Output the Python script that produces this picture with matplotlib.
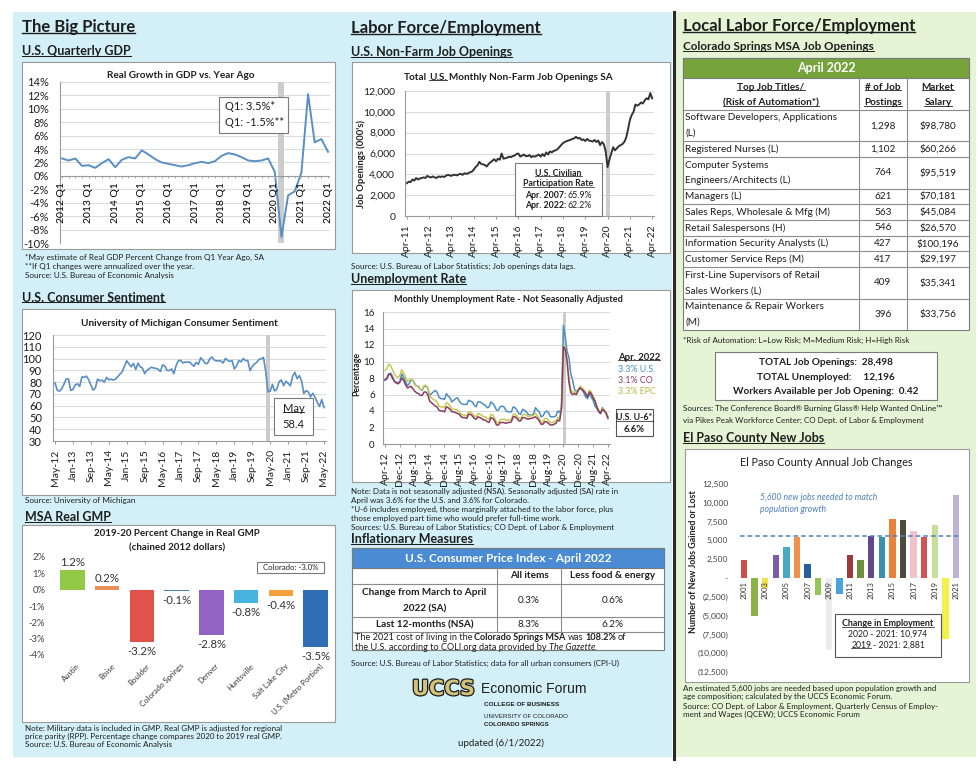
import matplotlib
matplotlib.use("Agg")
import matplotlib.pyplot as plt
import matplotlib.patheffects as pe
from matplotlib.patches import Rectangle
from matplotlib.lines import Line2D
import numpy as np
import pandas as pd

plt.rcParams["font.family"] = ["Lato", "DejaVu Sans"]
plt.rcParams["axes.linewidth"] = 0.8

W, H = 979, 768

# ---------------- data ----------------
# U.S. real GDP, % change vs. year ago, 2012 Q1 .. 2022 Q1
gdp_growth = [
    2.6, 2.3, 2.6, 1.5,      # 2012
    1.6, 1.2, 1.9, 2.5,      # 2013
    1.3, 2.4, 2.8, 2.6,      # 2014
    3.8, 3.2, 2.5, 2.0,      # 2015
    1.8, 1.6, 1.4, 1.6,      # 2016
    1.9, 2.1, 1.9, 2.2,      # 2017
    3.0, 3.4, 3.2, 2.8,      # 2018
    2.3, 2.2, 2.3, 2.6,      # 2019
    0.6, -9.1, -2.9, -2.3,   # 2020
    0.5, 12.2, 5.0, 5.5,     # 2021
    3.6,                     # 2022
]

# University of Michigan consumer sentiment, May 2012 .. May 2022
sentiment = [
    79.3, 73.2, 72.3, 74.3, 78.3, 82.6, 82.7, 72.9,
    73.8, 77.6, 78.6, 76.4, 84.5, 84.1, 85.1, 82.1, 77.5, 73.2, 75.1, 82.5,
    81.2, 81.6, 80.0, 84.1, 81.9, 82.5, 81.8, 82.5, 84.6, 86.9, 88.8, 93.6,
    98.1, 95.4, 93.0, 95.9, 90.7, 96.1, 93.1, 91.9, 87.2, 90.0, 91.3, 92.6,
    92.0, 91.7, 91.0, 89.0, 94.7, 93.5, 90.0, 89.8, 91.2, 87.2, 93.8, 98.2,
    98.5, 96.3, 96.9, 97.0, 97.1, 95.1, 93.4, 96.8, 95.1, 100.7, 98.5, 95.9,
    95.7, 99.7, 101.4, 98.8, 98.0, 98.2, 97.9, 96.2, 100.1, 98.6, 97.5, 98.3,
    91.2, 93.8, 98.4, 97.2, 100.0, 98.2, 98.4, 89.8, 93.2, 95.5, 96.8, 99.3,
    99.8, 101.0, 89.1, 71.8, 72.3, 78.1, 72.5, 74.1, 80.4, 81.8, 76.9, 80.7,
    79.0, 76.8, 84.9, 88.3, 82.9, 85.5, 81.2, 70.3, 72.8, 71.7, 67.4, 70.6,
    67.2, 62.8, 59.4, 65.2, 58.4,
]

# MSA real GMP, % change 2019-20
msa_names = ["Austin", "Boise", "Boulder", "Colorado Springs", "Denver",
             "Huntsville", "Salt Lake City", "U.S. (Metro Portion)"]
msa_change = [1.2, 0.2, -3.2, -0.1, -2.8, -0.8, -0.4, -3.5]
msa_colors = ["#92c947", "#e8925a", "#e0524a", "#4b7bbd", "#9363c4",
              "#46b4de", "#f5a03c", "#2f6db5"]

# U.S. non-farm job openings (000's), Apr 2011 .. Apr 2022
job_openings = [
    3150, 3300, 3250, 3500, 3400, 3650, 3500, 3600, 3650,
    3700, 3650, 3850, 3750, 3700, 3800, 3700, 3650, 3800, 3750, 3800, 3750,
    3850, 3950, 3900, 3850, 3950, 3950, 3900, 4000, 4050, 3950, 4100, 4050,
    4100, 4200, 4250, 4450, 4700, 4850, 5200, 5000, 4950, 4900, 4750, 5000,
    5150, 5300, 5450, 5250, 5500, 5400, 6000, 5500, 5550, 5600, 5700, 5650,
    5750, 5800, 5950, 6000, 5700, 5800, 5900, 5750, 5750, 5850, 5650, 5750,
    5700, 5800, 5900, 5700, 5950, 5750, 6100, 5900, 6200, 6100, 6250, 6300,
    6400, 6600, 6800, 7000, 7100, 7200, 7250, 7300, 7400, 7450, 7600, 7450,
    7500, 7300, 7350, 7200, 7400, 7250, 7200, 7150, 7300, 7100, 7250, 6800,
    7100, 6900, 6200, 4700, 5400, 6000, 6600, 6300, 6500, 6700, 6800, 6900,
    7100, 7500, 8300, 9200, 9700, 10000, 10700, 10600, 10700, 10900, 10800, 11100,
    11300, 11200, 11800, 11300,
]

# Monthly unemployment rate (NSA), Apr 2012 .. Apr 2022
unemp_us = [
    7.7, 7.9, 8.4, 8.6, 8.2, 7.6, 7.5, 7.4, 7.6,
    8.5, 8.1, 7.6, 7.1, 7.3, 7.8, 7.7, 7.3, 7.0, 7.0, 6.6, 6.5,
    7.0, 7.0, 6.8, 5.9, 6.1, 6.3, 6.5, 6.3, 5.7, 5.5, 5.5, 5.4,
    6.1, 5.8, 5.6, 5.1, 5.3, 5.5, 5.6, 5.2, 4.9, 4.8, 4.8, 4.8,
    5.3, 5.2, 5.1, 4.7, 4.5, 5.1, 5.1, 5.0, 4.8, 4.7, 4.4, 4.5,
    5.1, 4.9, 4.6, 4.1, 4.1, 4.5, 4.6, 4.5, 4.1, 3.9, 3.9, 3.9,
    4.5, 4.4, 4.1, 3.7, 3.6, 4.2, 4.1, 3.9, 3.6, 3.5, 3.5, 3.7,
    4.4, 4.1, 3.9, 3.3, 3.4, 3.8, 4.0, 3.8, 3.3, 3.3, 3.3, 3.4,
    4.0, 3.8, 4.5, 14.4, 13.0, 11.2, 10.5, 8.5, 7.7, 6.6, 6.4, 6.5,
    6.8, 6.6, 6.2, 5.7, 5.5, 6.1, 5.7, 5.3, 4.6, 4.3, 3.9, 3.7,
    4.4, 4.1, 3.8, 3.3,
]
unemp_co = [
    7.8, 8.0, 8.5, 8.4, 8.0, 7.6, 7.4, 7.3, 7.5,
    8.0, 7.7, 7.2, 6.8, 6.9, 7.0, 6.7, 6.4, 6.2, 6.1, 5.9, 5.9,
    6.3, 6.3, 6.0, 5.2, 5.0, 4.8, 4.6, 4.5, 4.1, 4.0, 4.0, 3.9,
    4.5, 4.4, 4.2, 3.9, 3.9, 3.8, 3.7, 3.6, 3.3, 3.2, 3.2, 3.1,
    3.6, 3.6, 3.4, 3.1, 3.0, 3.3, 3.2, 3.1, 2.9, 2.9, 2.7, 2.6,
    3.2, 3.1, 2.8, 2.3, 2.3, 2.6, 2.6, 2.6, 2.5, 2.6, 2.6, 2.7,
    3.3, 3.3, 3.1, 2.8, 2.8, 3.2, 3.2, 3.1, 3.0, 3.1, 3.1, 3.2,
    3.3, 3.1, 2.8, 2.4, 2.4, 2.7, 2.7, 2.5, 2.3, 2.3, 2.4, 2.5,
    2.9, 2.8, 4.3, 11.8, 11.5, 10.0, 7.5, 6.2, 6.0, 6.1, 6.0, 6.5,
    6.8, 6.6, 6.4, 6.1, 5.7, 6.3, 6.1, 5.6, 5.2, 4.5, 4.0, 3.7,
    4.2, 4.0, 3.7, 3.1,
]
unemp_epc = [
    8.9, 9.2, 9.7, 9.5, 9.0, 8.5, 8.2, 8.1, 8.3,
    9.0, 8.6, 8.1, 7.6, 7.7, 7.9, 7.6, 7.2, 7.0, 6.9, 6.6, 6.6,
    7.1, 7.1, 6.8, 5.8, 5.6, 5.4, 5.3, 5.1, 4.6, 4.5, 4.5, 4.4,
    5.0, 4.9, 4.6, 4.2, 4.2, 4.2, 4.1, 3.9, 3.6, 3.5, 3.5, 3.4,
    3.9, 3.9, 3.7, 3.4, 3.3, 3.7, 3.6, 3.5, 3.3, 3.3, 3.1, 3.0,
    3.6, 3.5, 3.1, 2.6, 2.6, 2.9, 3.0, 3.0, 2.9, 2.9, 2.9, 3.0,
    3.6, 3.6, 3.4, 3.1, 3.1, 3.5, 3.6, 3.5, 3.3, 3.4, 3.4, 3.5,
    3.7, 3.4, 3.1, 2.7, 2.7, 3.1, 3.1, 2.9, 2.6, 2.6, 2.7, 2.8,
    3.2, 3.1, 4.6, 11.9, 11.6, 10.3, 7.9, 6.6, 6.3, 6.3, 6.2, 6.6,
    7.0, 6.8, 6.6, 6.2, 5.8, 6.5, 6.3, 5.8, 5.3, 4.6, 4.1, 3.8,
    4.3, 4.1, 3.8, 3.3,
]

# CPI table
cpi_cols = ["All items", "Less food & energy"]
cpi_rows = ["Change from March to April\n2022 (SA)", "Last 12-months (NSA)"]
cpi_values = [[0.3, 0.6], [8.3, 6.2]]

# Colorado Springs MSA job openings, April 2022
job_titles = ["Software Developers, Applications\n(L)", "Registered Nurses (L)",
              "Computer Systems\nEngineers/Architects (L)", "Managers (L)",
              "Sales Reps, Wholesale & Mfg (M)", "Retail Salespersons (H)",
              "Information Security Analysts (L)", "Customer Service Reps (M)",
              "First-Line Supervisors of Retail\nSales Workers (L)",
              "Maintenance & Repair Workers\n(M)"]
job_postings = [1298, 1102, 764, 621, 563, 546, 427, 417, 409, 396]
job_salary = [98780, 60266, 95519, 70181, 45084, 26570, 100196, 29197, 35341, 33756]

# El Paso County annual job changes
ep_years = list(range(2001, 2022))
ep_jobs = [2400, -5000, -1300, 3100, 4100, 5500, 1800, -2200, -9600, -2100,
           3000, 2400, 5600, 5500, 7900, 7700, 6300, 5500, 7000, -8093, 10974]
ep_colors = ["#c9504b", "#8db346", "#f2e14b", "#7b5ea7", "#4aaac6", "#f0924a",
             "#2a5f9e", "#92c756", "#ececec", "#4da3de", "#9a3a3a", "#6f8f3a",
             "#5e4a8c", "#3a93ad", "#e9833a", "#4d4a3a", "#efc3c8", "#d05454",
             "#c6df9c", "#f4f04a", "#bdb3d6"]
jobs_needed = 5600

# ---------------- helpers ----------------
BLUE_BG = "#d3eff7"
GREEN_BG = "#e5f4d5"
LINE_BLUE = "#5a8fc3"
TXT = "#1e1e1e"
GRID = "#d4d4d4"
AXIS = "#9a9a9a"
BAND = "#cccccc"

fig = plt.figure(figsize=(W / 100, H / 100), dpi=100)
fig.patch.set_facecolor("white")
rend = fig.canvas.get_renderer()


def fx(x):
    return x / W


def fy(y):
    return 1 - y / H


underlined = []


def txt(x, y, s, ul=False, **kw):
    kw.setdefault("fontsize", 6)
    kw.setdefault("color", TXT)
    kw.setdefault("va", "center")
    t = fig.text(fx(x), fy(y), s, **kw)
    if ul:
        underlined.append(t)
    return t


def rect(x0, y0, x1, y1, fc="white", ec="#9a9a9a", lw=0.8, z=-1):
    fig.add_artist(Rectangle((fx(x0), fy(y1)), (x1 - x0) / W, (y1 - y0) / H,
                             transform=fig.transFigure, fc=fc, ec=ec, lw=lw, zorder=z))


def seg(x0, y0, x1, y1, color="#8c8c8c", lw=0.8, z=2):
    fig.add_artist(Line2D([fx(x0), fx(x1)], [fy(y0), fy(y1)], transform=fig.transFigure,
                          color=color, lw=lw, zorder=z))


def width_of(s, **kw):
    t = fig.text(0, 0, s, **kw)
    w = t.get_window_extent(rend).width
    t.remove()
    return w


def rich(x, y, parts, size=7, ha="left"):
    # pieces of one line with their own weight / style / underline
    sp = 0.8 * (width_of("a a", fontsize=size) - width_of("aa", fontsize=size))
    placed = []
    cur = 0
    for s, opt in parts:
        if s.startswith(" "):
            cur += sp
        t = txt(0, y, s.strip(), ul=opt.get("ul", False), fontsize=size,
                fontweight=opt.get("weight", "normal"), fontstyle=opt.get("style", "normal"),
                color=opt.get("color", TXT))
        placed.append((t, cur))
        cur += t.get_window_extent(rend).width
        if s.endswith(" "):
            cur += sp
    x0 = x - cur / 2 if ha == "center" else x
    for t, off in placed:
        t.set_x(fx(x0 + off))


def add_ax(x0, y0, x1, y1):
    ax = fig.add_axes([fx(x0), fy(y1), (x1 - x0) / W, (y1 - y0) / H])
    ax.set_facecolor("none")
    for s in ["top", "right"]:
        ax.spines[s].set_visible(False)
    for s in ["left", "bottom"]:
        ax.spines[s].set_color(AXIS)
    ax.tick_params(colors="#8a8a8a", labelcolor=TXT, length=2.5, width=0.6)
    ax.set_axisbelow(True)
    return ax


# ---------------- backgrounds ----------------
rect(13, 12, 672, 757, fc=BLUE_BG, ec="none", z=-3)
rect(675, 12, 976, 757, fc=GREEN_BG, ec="none", z=-3)
seg(673.5, 12, 673.5, 759, color="#2a2a2a", lw=2.2, z=-2)

# ---------------- The Big Picture: GDP ----------------
txt(22, 27, "The Big Picture", ul=True, fontsize=12, fontweight="bold")
txt(22, 51, "U.S. Quarterly GDP", ul=True, fontsize=9, fontweight="bold")
rect(22, 62, 335, 249)
txt(181, 76, "Real Growth in GDP vs. Year Ago", fontsize=7.2, fontweight="bold", ha="center")

gdp_labels = [str(p).replace("Q", " Q")
              for p in pd.period_range("2012Q1", periods=len(gdp_growth), freq="Q")]
ax = add_ax(60, 82, 330, 243)
xq = np.arange(len(gdp_growth))
ax.axvspan(32.55, 33.45, color=BAND, lw=0)
ax.plot(xq, gdp_growth, color=LINE_BLUE, lw=1.4)
ax.set_xlim(-0.3, 40.3)
ax.set_ylim(-10, 14)
ax.set_yticks(range(-10, 15, 2))
ax.set_yticklabels([f"{v}%" for v in range(-10, 15, 2)])
ax.tick_params(axis="y", length=0, labelsize=8, pad=8)
ax.grid(axis="y", color=GRID, lw=0.6)
ax.set_xticks([])
ax.spines["bottom"].set_visible(False)
ax.axhline(0, color=AXIS, lw=0.8)
ax.vlines(xq, -0.35, 0, color=AXIS, lw=0.6)
for i in range(0, len(gdp_growth), 4):
    ax.text(i, -0.9, gdp_labels[i], rotation=90, ha="center", va="top", fontsize=7.5)

rect(219, 97, 288, 133, fc="white", ec="#7a7a7a", z=2)
txt(225, 106, "Q1: 3.5%*", fontsize=8)
txt(225, 123, "Q1: -1.5%**", fontsize=8)

txt(25, 257, "*May estimate of Real GDP Percent Change from Q1 Year Ago, SA", fontsize=5.9)
txt(25, 266, "**If Q1 changes were annualized over the year.", fontsize=5.9)
txt(25, 275, "Source: U.S. Bureau of Economic Analysis", fontsize=5.9)

# ---------------- Consumer sentiment ----------------
txt(22, 298, "U.S. Consumer Sentiment", ul=True, fontsize=9, fontweight="bold")
rect(22, 309, 335, 495)
txt(179, 323, "University of Michigan Consumer Sentiment", fontsize=7.2,
    fontweight="bold", ha="center")

sent_dates = pd.date_range("2012-05-01", periods=len(sentiment), freq="MS").strftime("%b-%y")
ax = add_ax(53, 335, 326, 441)
xs = np.arange(len(sentiment))
ax.axvspan(94.3, 96.0, color=BAND, lw=0)
ax.plot(xs, sentiment, color=LINE_BLUE, lw=1.2)
ax.set_xlim(-0.9, 120.9)
ax.set_ylim(30, 120)
ax.set_yticks(range(30, 121, 10))
ax.tick_params(axis="y", length=0, labelsize=8, pad=8)
ax.set_xticks(xs[::8])
ax.set_xticklabels(sent_dates[::8], rotation=90, fontsize=7.5)
ax.grid(axis="y", color=GRID, lw=0.6)

rect(274, 398, 313, 435, fc="white", ec="#7a7a7a", z=2)
txt(293.5, 408, "May", ul=True, fontsize=8, ha="center")
txt(293.5, 425, "58.4", fontsize=8, ha="center")
txt(25, 501, "Source: University of Michigan", fontsize=5.9)

# ---------------- MSA real GMP ----------------
txt(25, 517, "MSA Real GMP", ul=True, fontsize=9, fontweight="bold")
rect(22, 525, 335, 722)
txt(177, 534, "2019-20 Percent Change in Real GMP", fontsize=7, fontweight="bold", ha="center")
txt(177, 548, "(chained 2012 dollars)", fontsize=7, fontweight="bold", ha="center")

ax = add_ax(55, 557, 333, 655)
ax.bar(range(len(msa_change)), msa_change, width=0.7, color=msa_colors)
ax.set_xlim(-0.5, len(msa_change) - 0.5)
ax.set_ylim(-4, 2)
ax.set_yticks(range(-4, 3))
ax.set_yticklabels([f"{v}%" for v in range(-4, 3)])
ax.tick_params(axis="y", length=0, labelsize=6.8, pad=7, labelcolor="#444444")
ax.set_xticks([])
for s in ax.spines.values():
    s.set_visible(False)
for i, (v, name) in enumerate(zip(msa_change, msa_names)):
    if v >= 0:
        ax.text(i, v + 0.12, f"{v:.1f}%", ha="center", va="bottom", fontsize=8.2, color="#333333")
    else:
        ax.text(i, v - 0.25, f"{v:.1f}%", ha="center", va="top", fontsize=8.2, color="#333333")
    ax.text(i + 0.18, -4.6, name, rotation=45, rotation_mode="anchor", ha="right",
            va="center", fontsize=5.6, color="#333333")

rect(257, 562, 324, 573, fc="white", ec="#7a7a7a", z=2)
txt(290.5, 567.5, "Colorado: -3.0%", fontsize=5.6, ha="center")

txt(25, 728, "Note: Military data is included in GMP. Real GMP is adjusted for regional", fontsize=5.8)
txt(25, 736.5, "price parity (RPP). Percentage change compares 2020 to 2019 real GMP.", fontsize=5.8)
txt(25, 745, "Source: U.S. Bureau of Economic Analysis", fontsize=5.8)

# ---------------- Labor force: job openings ----------------
txt(351, 28, "Labor Force/Employment", ul=True, fontsize=12, fontweight="bold")
txt(351, 52, "U.S. Non-Farm Job Openings", ul=True, fontsize=9, fontweight="bold")
rect(352, 62, 670, 253)
rich(508, 77, [("Total ", {"weight": "bold"}), ("U.S.", {"weight": "bold", "ul": True}),
               (" Monthly Non-Farm Job Openings SA", {"weight": "bold"})], size=7.2, ha="center")

jo_dates = pd.date_range("2011-04-01", periods=len(job_openings), freq="MS").strftime("%b-%y")
ax = add_ax(405, 91, 654, 216)
xj = np.arange(len(job_openings))
ax.axvspan(107.3, 109.3, color=BAND, lw=0)
ax.plot(xj, job_openings, color="#333333", lw=1.4)
ax.set_xlim(-1, len(job_openings))
ax.set_ylim(0, 12000)
ax.set_yticks(range(0, 12001, 2000))
ax.set_yticklabels([f"{v:,}" for v in range(0, 12001, 2000)])
ax.tick_params(axis="y", length=0, labelsize=7.5, pad=7)
ax.set_xticks(xj[::12])
ax.set_xticklabels(jo_dates[::12], rotation=90, fontsize=7.5)
ax.grid(axis="y", color=GRID, lw=0.6)
txt(361, 164, "Job Openings (000's)", rotation=90, ha="center", fontsize=6.8, fontweight="bold")

rect(515, 163, 602, 216, fc="white", ec="#7a7a7a", z=2)
txt(558.5, 173, "U.S. Civilian", ul=True, fontsize=6.3, fontweight="bold", ha="center")
txt(558.5, 184, "Participation Rate", ul=True, fontsize=6.3, fontweight="bold", ha="center")
rich(558.5, 195, [("Apr. 2007: ", {"weight": "bold"}), ("65.9%", {})], size=6.3, ha="center")
rich(558.5, 206, [("Apr. 2022: ", {"weight": "bold"}), ("62.2%", {})], size=6.3, ha="center")
txt(351, 266, "Source: U.S. Bureau of Labor Statistics; Job openings data lags.", fontsize=5.9)

# ---------------- Unemployment rate ----------------
txt(351, 279, "Unemployment Rate", ul=True, fontsize=9, fontweight="bold")
rect(352, 290, 670, 482)
txt(508, 300, "Monthly Unemployment Rate - Not Seasonally Adjusted", fontsize=6.6,
    fontweight="bold", ha="center")

un_dates = pd.date_range("2012-04-01", periods=len(unemp_us), freq="MS").strftime("%b-%y")
ax = add_ax(383, 312, 610, 444)
xu = np.arange(len(unemp_us))
ax.axvspan(95.6, 97.2, color=BAND, lw=0)
ax.plot(xu, unemp_us, color="#4a8fc0", lw=1.1)
ax.plot(xu, unemp_epc, color="#c6c850", lw=1.1)
ax.plot(xu, unemp_co, color="#8a3c5e", lw=1.1)
ax.set_xlim(-1.1, len(unemp_us) + 0.1)
ax.set_ylim(0, 16)
ax.set_yticks(range(0, 17, 2))
ax.tick_params(axis="y", length=0, labelsize=7, pad=6)
ax.set_xticks(xu[::8])
ax.set_xticklabels(un_dates[::8], rotation=90, fontsize=7.5)
ax.grid(axis="y", color=GRID, lw=0.6)
txt(357, 374, "Percentage", rotation=90, ha="center", fontsize=6.3, fontweight="bold")

txt(618, 357, "Apr. 2022", ul=True, fontsize=6.8, fontweight="bold")
txt(618, 369, "3.3% U.S.", fontsize=6.4, color="#4a8fc0")
txt(618, 380, "3.1% CO", fontsize=6.4, color="#8a3c5e")
txt(618, 391, "3.3% EPC", fontsize=6.4, color="#b9bb45")
rect(616, 409, 653, 436, fc="white", ec="#555555", z=2)
txt(634.5, 418, "U.S. U-6*", ul=True, fontsize=6.3, fontweight="bold", ha="center")
txt(634.5, 429, "6.6%", fontsize=6.8, fontweight="bold", ha="center")

txt(351, 491, "Note: Data is not seasonally adjusted (NSA). Seasonally adjusted (SA) rate in", fontsize=5.8)
txt(351, 500, "April was 3.6% for the U.S. and 3.6% for Colorado.", fontsize=5.8)
txt(351, 509, "*U-6 includes employed, those marginally attached to the labor force, plus", fontsize=5.8)
txt(351, 518, "those employed part time who would prefer full-time work.", fontsize=5.8)
txt(351, 527, "Sources: U.S. Bureau of Labor Statistics; CO Dept. of Labor & Employment", fontsize=5.8)

# ---------------- Inflation / CPI table ----------------
txt(351, 539, "Inflationary Measures", ul=True, fontsize=9, fontweight="bold")
cx = [352, 497, 561, 664]
cy = [548, 568, 584, 617, 632, 650]
rect(cx[0], cy[0], cx[3], cy[5], fc="white", ec="#7a7a7a", z=1)
rect(cx[0], cy[0], cx[3], cy[1], fc="#4a8bd3", ec="#7a7a7a", z=1)
txt((cx[0] + cx[3]) / 2, 558, "U.S. Consumer Price Index - April 2022", color="white",
    fontsize=8.6, fontweight="bold", ha="center")
for yy in cy[2:5]:
    seg(cx[0], yy, cx[3], yy)
for xx in cx[1:3]:
    seg(xx, cy[1], xx, cy[4])
for j, c in enumerate(cpi_cols):
    txt((cx[j + 1] + cx[j + 2]) / 2, (cy[1] + cy[2]) / 2, c, fontsize=7.2,
        fontweight="bold", ha="center")
for r, (lab, vals) in enumerate(zip(cpi_rows, cpi_values)):
    ymid = (cy[r + 2] + cy[r + 3]) / 2
    lines = lab.split("\n")
    for k, line in enumerate(lines):
        txt((cx[0] + cx[1]) / 2, ymid + (k - (len(lines) - 1) / 2) * 16, line,
            fontsize=7.2, fontweight="bold", ha="center")
    for j, v in enumerate(vals):
        txt((cx[j + 1] + cx[j + 2]) / 2, ymid, f"{v:.1f}%", fontsize=7.2, ha="center")
rich(355, 638, [("The 2021 cost of living in the ", {}), ("Colorado Springs MSA", {"weight": "bold"}),
                (" was ", {}), ("108.2%", {"weight": "bold"}), (" of", {})], size=6.6)
rich(355, 647.5, [("the U.S. according to COLI.org data provided by ", {}),
                  ("The Gazette", {"style": "italic"}), (".", {})], size=6.6)
txt(351, 663, "Source: U.S. Bureau of Labor Statistics; data for all urban consumers (CPI-U)", fontsize=5.8)

# logo block
txt(412, 689, "UCCS", fontsize=15, fontweight="heavy", color="#d4c27a", family="DejaVu Sans",
    path_effects=[pe.withStroke(linewidth=1.8, foreground="#1a1a1a")])
txt(481, 689, "Economic Forum", fontsize=10, family="Liberation Sans")
txt(484, 704, "COLLEGE OF BUSINESS", fontsize=4.6, fontweight="bold", family="Liberation Sans")
txt(484, 717, "UNIVERSITY OF COLORADO", fontsize=4.4, family="Liberation Sans")
txt(484, 724, "COLORADO SPRINGS", fontsize=4.4, fontweight="bold", family="Liberation Sans")
txt(501, 743, "updated (6/1/2022)", fontsize=7, ha="center")

# ---------------- Local labor force: job table ----------------
txt(683, 26, "Local Labor Force/Employment", ul=True, fontsize=12, fontweight="bold")
txt(683, 47, "Colorado Springs MSA Job Openings", ul=True, fontsize=8.4, fontweight="bold")

tx0, tc1, tc2, tx1 = 683, 859, 907, 969
t_top, t_head, t_body, t_bot = 58, 78, 110, 330
rect(tx0, t_top, tx1, t_bot, fc="white", ec="#7a7a7a", z=1)
rect(tx0, t_top, tx1, t_head, fc="#76a33c", ec="#7a7a7a", z=1)
txt((tx0 + tx1) / 2, 68.5, "April 2022", color="white", fontsize=9, fontweight="bold", ha="center")
seg(tx0, t_body, tx1, t_body)
seg(tc1, t_head, tc1, t_bot)
seg(tc2, t_head, tc2, t_bot)
for k, (a, b, c) in enumerate([("Top Job Titles/", "# of Job", "Market"),
                               ("(Risk of Automation*)", "Postings", "Salary")]):
    yy = 87 + k * 15.5
    txt((tx0 + tc1) / 2, yy, a, ul=True, fontsize=7.2, fontweight="bold", ha="center")
    txt((tc1 + tc2) / 2, yy, b, ul=True, fontsize=7.2, fontweight="bold", ha="center")
    txt((tc2 + tx1) / 2, yy, c, ul=True, fontsize=7.2, fontweight="bold", ha="center")

unit = (t_bot - t_body) / sum(len(t.split("\n")) for t in job_titles)
top = t_body
for title, n, sal in zip(job_titles, job_postings, job_salary):
    lines = title.split("\n")
    h = unit * len(lines)
    if top + h < t_bot - 1:
        seg(tx0, top + h, tx1, top + h)
    for k, line in enumerate(lines):
        txt(tx0 + 2, top + (k + 0.5) * unit, line, fontsize=7.2)
    txt((tc1 + tc2) / 2, top + h / 2, f"{n:,}", fontsize=7.2, ha="center")
    txt((tc2 + tx1) / 2, top + h / 2, f"${sal:,}", fontsize=7.2, ha="center")
    top += h

txt(683, 340, "*Risk of Automation: L=Low Risk; M=Medium Risk; H=High Risk", fontsize=5.8)
rect(715, 352, 937, 400, fc="white", ec="#7a7a7a", z=1)
txt(826, 362, "TOTAL Job Openings:  28,498", fontsize=7.2, fontweight="bold", ha="center")
txt(826, 377, "TOTAL Unemployed:     12,196", fontsize=7.2, fontweight="bold", ha="center")
txt(826, 392, "Workers Available per Job Opening:  0.42", fontsize=7.2, fontweight="bold", ha="center")
txt(683, 409, "Sources: The Conference Board\u00ae Burning Glass\u00ae Help Wanted OnLine\u2122", fontsize=5.8)
txt(683, 420, "via Pikes Peak Workforce Center; CO Dept. of Labor & Employment", fontsize=5.8)

# ---------------- El Paso County new jobs ----------------
txt(683, 438, "El Paso County New Jobs", ul=True, fontsize=9, fontweight="bold")
rect(685, 449, 969, 682)
txt(826, 463, "El Paso County Annual Job Changes", fontsize=7.8, ha="center")

ax = add_ax(735, 484, 965, 672)
xe = np.arange(len(ep_years))
ax.bar(xe, ep_jobs, width=0.6, color=ep_colors)
ax.hlines(jobs_needed, -0.4, len(ep_years) - 0.6, colors="#4f81bd",
          linestyles=(0, (3, 2)), lw=1.1)
ax.set_xlim(-0.85, len(ep_years) - 0.15)
ax.set_ylim(-12500, 12500)
ep_ticks = list(range(-12500, 12501, 2500))
ax.set_yticks(ep_ticks)
ax.set_yticklabels(["-" if v == 0 else (f"{v:,}" if v > 0 else f"({-v:,})") for v in ep_ticks])
ax.tick_params(axis="y", length=0, labelsize=6, pad=5, labelcolor="#444444")
ax.set_xticks([])
for s in ax.spines.values():
    s.set_visible(False)
for i in range(0, len(ep_years), 2):
    ax.text(i, -350, str(ep_years[i]), rotation=90, ha="center", va="top", fontsize=5.6,
            color="#333333")
txt(694, 562, "Number of New Jobs Gained or Lost", rotation=90, ha="center", fontsize=6.4,
    fontweight="bold")
txt(760, 498, "5,600 new jobs needed to match", fontsize=6.2, fontstyle="italic", color="#4f81bd")
txt(760, 510, "population growth", fontsize=6.2, fontstyle="italic", color="#4f81bd")

rect(835, 614, 941, 657, fc="white", ec="#555555", z=2)
txt(888, 624, "Change in Employment", ul=True, fontsize=6.4, fontweight="bold", ha="center")
txt(888, 634.5, "2020 - 2021: 10,974", fontsize=6.2, ha="center")
rich(888, 645, [("2019", {"ul": True}), (" - 2021: 2,881", {})], size=6.2, ha="center")

txt(683, 688, "An estimated 5,600 jobs are needed based upon population growth and", fontsize=5.8)
txt(683, 696.5, "age composition; calculated by the UCCS Economic Forum.", fontsize=5.8)
txt(683, 706, "Source: CO Dept. of Labor & Employment, Quarterly Census of Employ-", fontsize=5.8)
txt(683, 714.5, "ment and Wages (QCEW); UCCS Economic Forum", fontsize=5.8)

# ---------------- underlines ----------------
fig.canvas.draw()
rend = fig.canvas.get_renderer()
for t in underlined:
    bb = t.get_window_extent(rend)
    em = t.get_fontsize() * 100 / 72
    yy = bb.y0 + 0.12 * em
    fig.add_artist(Line2D([bb.x0 / W, bb.x1 / W], [yy / H, yy / H], transform=fig.transFigure,
                          color=t.get_color(), lw=max(0.5, t.get_fontsize() / 12), zorder=4))

fig.savefig("out.png", dpi=100)
